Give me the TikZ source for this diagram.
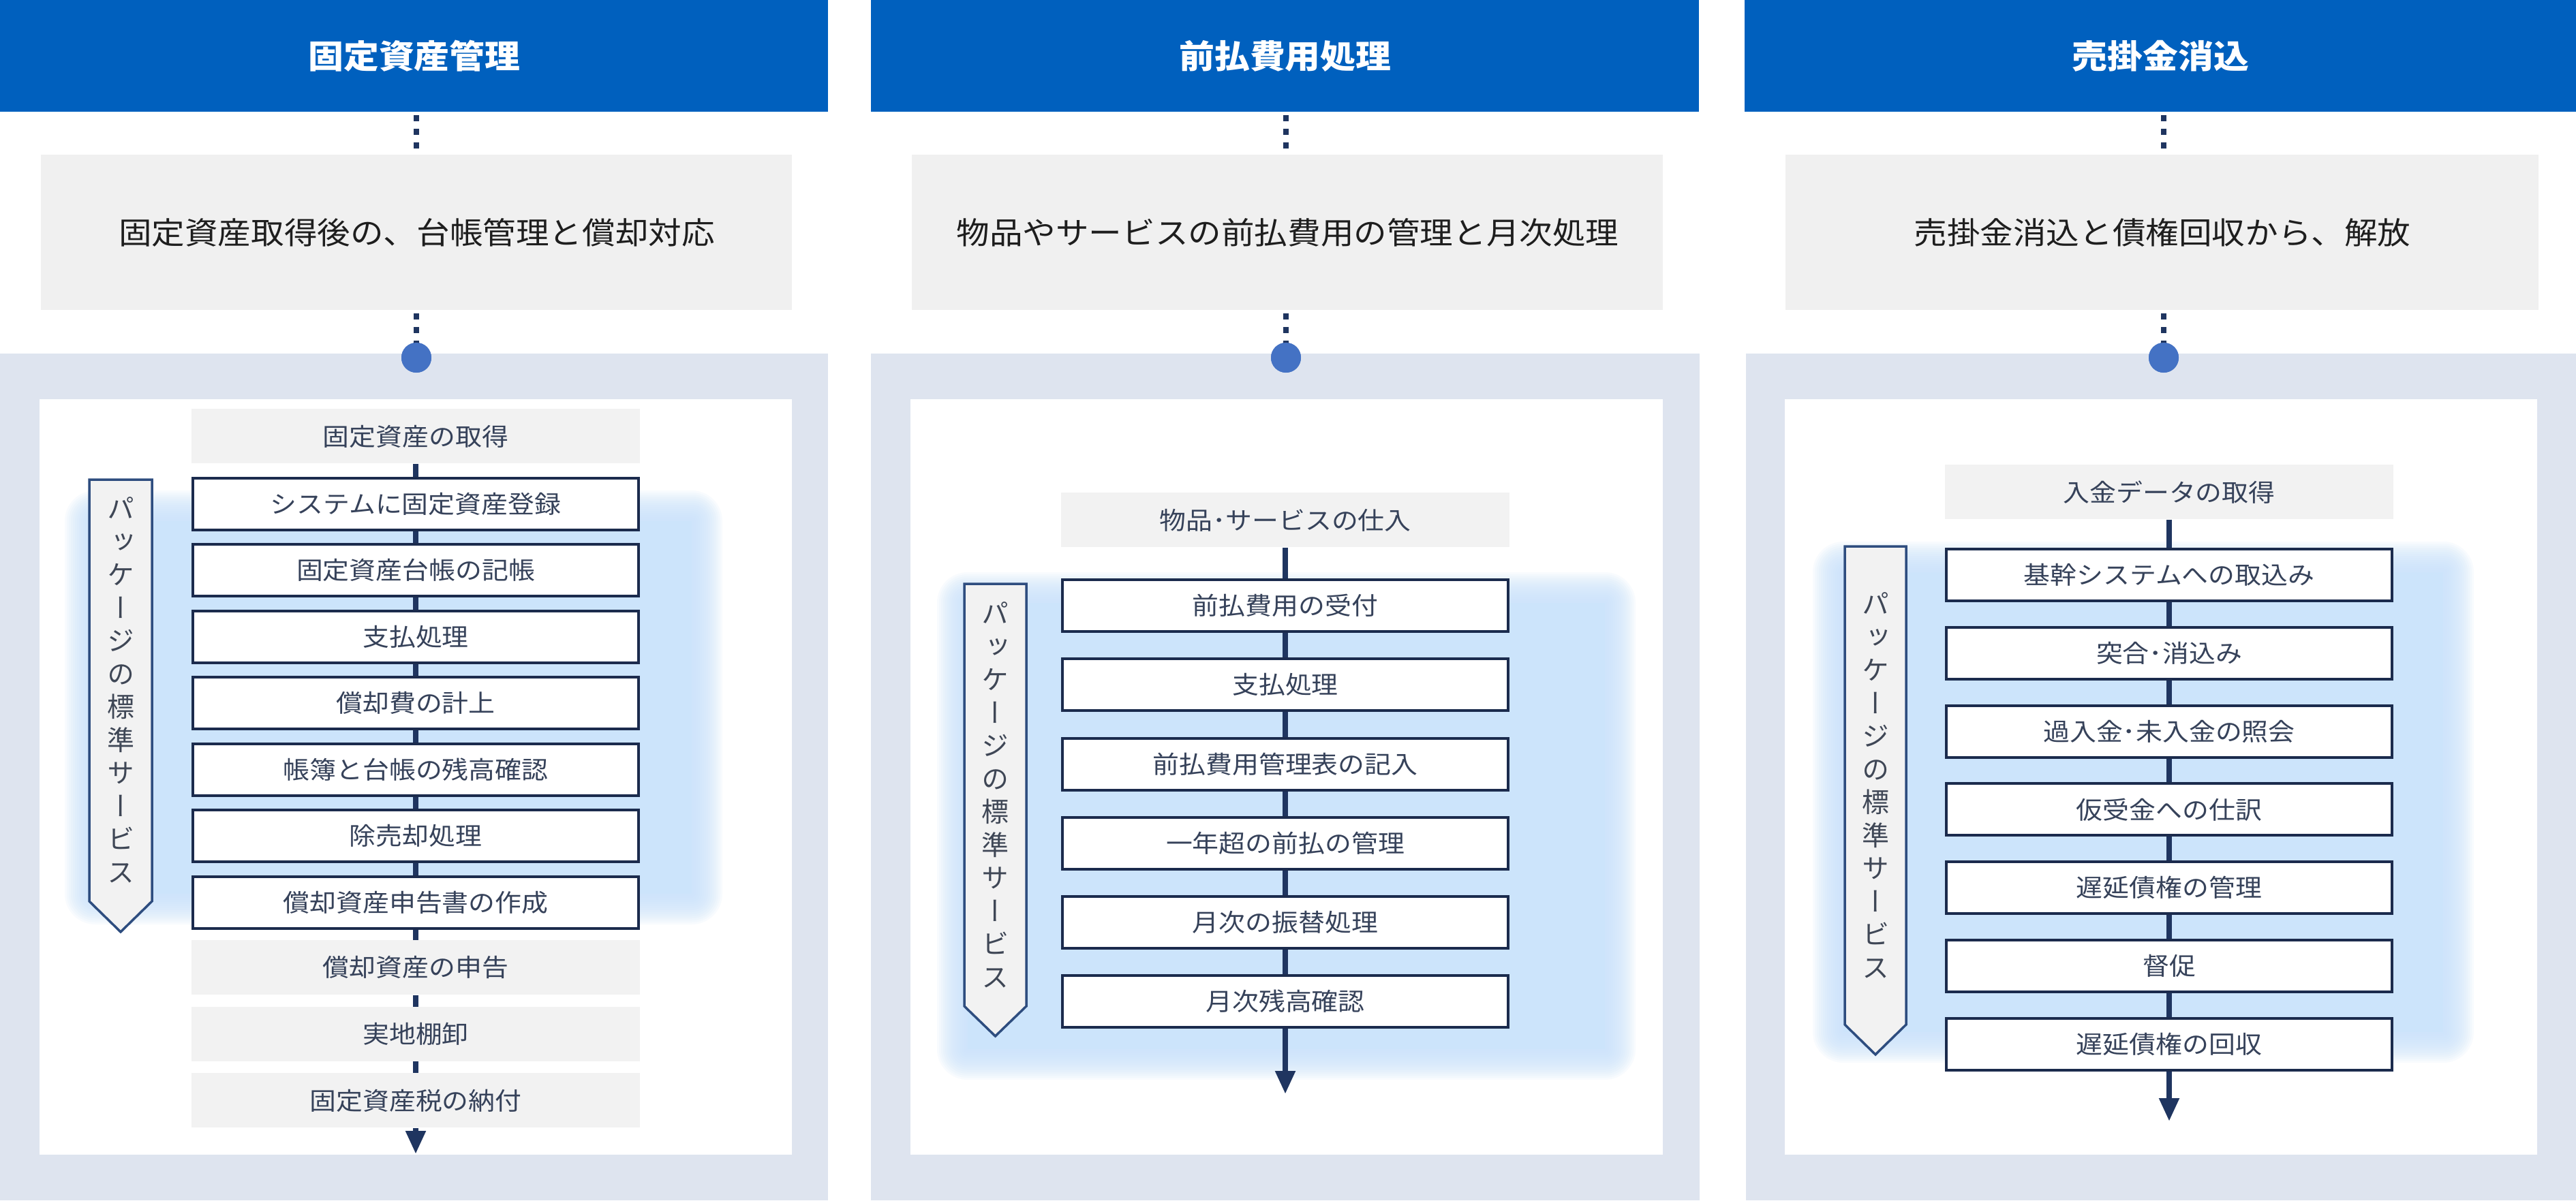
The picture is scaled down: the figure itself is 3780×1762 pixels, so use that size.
\documentclass[tikz,border=0pt]{standalone}
\usepackage{fontspec}
\usepackage{graphicx}
\usetikzlibrary{arrows.meta}
\setmainfont{Noto Sans CJK JP}[FakeStretch=1.08]
\newfontfamily\vfont{Noto Sans CJK JP}[RawFeature=+vert]
\definecolor{hdrc}{HTML}{0060BE}
\definecolor{subc}{HTML}{F0F0F0}
\definecolor{panelc}{HTML}{DEE4EF}
\definecolor{grayc}{HTML}{F2F2F2}
\definecolor{boxc}{HTML}{1B2B4D}
\definecolor{connc}{HTML}{1F3560}
\definecolor{dotc}{HTML}{4472C4}
\definecolor{glowc}{HTML}{CCE4FB}
\definecolor{txtc}{HTML}{36425A}
\definecolor{subtxt}{HTML}{1E1E1E}
\definecolor{pentc}{HTML}{2E4D7F}
\definecolor{penttxt}{HTML}{3F4756}
\newcommand\glowbox[4]{%
  \fill[glowc] (#1,#2) rectangle (#3,#4);
  \foreach \e in {3,6,...,45}{%
    \pgfmathsetmacro\rc{\e*0.5}%
    \fill[glowc, opacity=0.13, rounded corners=\rc pt] (#1-\e,#2-\e) rectangle (#3+\e,#4+\e);
  }%
}
\begin{document}
\begin{tikzpicture}[x=0.5pt,y=-0.5pt,
  hdr/.style={fill=hdrc, text=white, minimum width=607.5pt, minimum height=82pt, inner sep=0pt, anchor=north west, font=\fontsize{24pt}{28pt}\selectfont\bfseries},
  sub/.style={fill=subc, text=subtxt, minimum width=551pt, minimum height=114pt, inner sep=0pt, anchor=north west, font=\fontsize{22.5pt}{26pt}\selectfont},
  stepbox/.style={draw=boxc, line width=2pt, fill=white, text=txtc, minimum width=327pt, minimum height=38pt, inner sep=0pt, anchor=north, font=\fontsize{18pt}{22pt}\selectfont},
  graybox/.style={fill=grayc, text=txtc, minimum width=329pt, minimum height=40pt, inner sep=0pt, anchor=north, font=\fontsize{18pt}{22pt}\selectfont},
  conn/.style={draw=connc, line width=4pt},
  arr/.style={conn, -{Triangle[length=17pt,width=14pt]}},
  dotline/.style={draw=connc, line width=4pt, dash pattern=on 4.5pt off 5.5pt, dash phase=8pt},
  bluedot/.style={circle, fill=dotc, minimum size=22pt, inner sep=0pt},
  pent/.style={draw=pentc, fill=grayc, line width=1.75pt, line join=miter},
  penttext/.style={text=penttxt, align=center, inner sep=0pt, font=\vfont\fontsize{20pt}{24.25pt}\selectfont}
]
\useasboundingbox (0,0) rectangle (3780,1762);
\fill[white] (0,0) rectangle (3780,1762);

% ---------- panels ----------
\fill[panelc] (0,519) rectangle (1215,1762);
\fill[panelc] (1278,519) rectangle (2494,1762);
\fill[panelc] (2562,519) rectangle (3780,1762);
\fill[white] (58,586) rectangle (1162,1695);
\fill[white] (1336,586) rectangle (2440,1695);
\fill[white] (2619,586) rectangle (3723,1695);

% ---------- glows ----------
\glowbox{140}{765}{1015}{1312}
\glowbox{1420}{885}{2355}{1540}
\glowbox{2705}{840}{3585}{1515}

% ---------- headers and subtitles ----------
\node[hdr] (h1) at (0,0) {固定資産管理};
\node[hdr, minimum width=607.5pt] (h2) at (1278,0) {前払費用処理};
\node[hdr, minimum width=610pt] (h3) at (2560,0) {売掛金消込};
\node[sub] (s1) at (60,227) {固定資産取得後の、台帳管理と償却対応};
\node[sub] (s2) at (1338,227) {物品やサービスの前払費用の管理と月次処理};
\node[sub, minimum width=552.5pt] (s3) at (2620,227) {売掛金消込と債権回収から、解放};

% ---------- blue dots and dotted links ----------
\node[bluedot] (d1) at (611,525) {};
\node[bluedot] (d2) at (1887,525) {};
\node[bluedot] (d3) at (3175,525) {};
\draw[dotline] (d1 |- h1.south) -- (d1 |- s1.north);
\draw[dotline] (d1 |- s1.south) -- (d1.center);
\draw[dotline] (d2 |- h2.south) -- (d2 |- s2.north);
\draw[dotline] (d2 |- s2.south) -- (d2.center);
\draw[dotline] (d3 |- h3.south) -- (d3 |- s3.north);
\draw[dotline] (d3 |- s3.south) -- (d3.center);
\node[bluedot] at (d1) {};
\node[bluedot] at (d2) {};
\node[bluedot] at (d3) {};

% ---------- column 1 ----------
\node[graybox] (a1) at (610,600) {固定資産の取得};
\node[stepbox] (a2) at (610,699.5) {システムに固定資産登録};
\node[stepbox] (a3) at (610,797) {固定資産台帳の記帳};
\node[stepbox] (a4) at (610,894.5) {支払処理};
\node[stepbox] (a5) at (610,992) {償却費の計上};
\node[stepbox] (a6) at (610,1089.5) {帳簿と台帳の残高確認};
\node[stepbox] (a7) at (610,1187) {除売却処理};
\node[stepbox] (a8) at (610,1284.5) {償却資産申告書の作成};
\node[graybox] (a9) at (610,1380) {償却資産の申告};
\node[graybox] (a10) at (610,1477.5) {実地棚卸};
\node[graybox] (a11) at (610,1575) {固定資産税の納付};
\coordinate (ae) at (610,1694);
\foreach \p/\q in {a1/a2,a2/a3,a3/a4,a4/a5,a5/a6,a6/a7,a7/a8,a8/a9,a9/a10,a10/a11}
  \draw[conn] (\p.south) -- (\q.north);
\draw[arr] (a11.south) -- (ae);

% ---------- column 2 ----------
\node[graybox] (b1) at (1886,723) {物品･サービスの仕入};
\node[stepbox] (b2) at (1886,849) {前払費用の受付};
\node[stepbox] (b3) at (1886,965) {支払処理};
\node[stepbox] (b4) at (1886,1081.5) {前払費用管理表の記入};
\node[stepbox] (b5) at (1886,1197.5) {一年超の前払の管理};
\node[stepbox] (b6) at (1886,1313.5) {月次の振替処理};
\node[stepbox] (b7) at (1886,1429.5) {月次残高確認};
\coordinate (be) at (1886,1606);
\foreach \p/\q in {b1/b2,b2/b3,b3/b4,b4/b5,b5/b6,b6/b7}
  \draw[conn] (\p.south) -- (\q.north);
\draw[arr] (b7.south) -- (be);

% ---------- column 3 ----------
\node[graybox] (c1) at (3183,682) {入金データの取得};
\node[stepbox] (c2) at (3183,804) {基幹システムへの取込み};
\node[stepbox] (c3) at (3183,918.8) {突合･消込み};
\node[stepbox] (c4) at (3183,1033.6) {過入金･未入金の照会};
\node[stepbox] (c5) at (3183,1148.4) {仮受金への仕訳};
\node[stepbox] (c6) at (3183,1263.2) {遅延債権の管理};
\node[stepbox] (c7) at (3183,1378) {督促};
\node[stepbox] (c8) at (3183,1492.8) {遅延債権の回収};
\coordinate (ce) at (3183,1646);
\foreach \p/\q in {c1/c2,c2/c3,c3/c4,c4/c5,c5/c6,c6/c7,c7/c8}
  \draw[conn] (\p.south) -- (\q.north);
\draw[arr] (c8.south) -- (ce);

% ---------- package labels ----------
\draw[pent] (131,704) -- (223,704) -- (223,1323) -- (177,1368) -- (131,1323) -- cycle;
\node[penttext] (p1) at (177,1013) {パ\\ッ\\ケ\\ー\\ジ\\の\\標\\準\\サ\\ー\\ビ\\ス};
\draw[pent] (1415,857) -- (1506,857) -- (1506,1477) -- (1460.5,1521) -- (1415,1477) -- cycle;
\node[penttext] (p2) at (1460.5,1167) {パ\\ッ\\ケ\\ー\\ジ\\の\\標\\準\\サ\\ー\\ビ\\ス};
\draw[pent] (2707,802) -- (2797,802) -- (2797,1504) -- (2752,1548) -- (2707,1504) -- cycle;
\node[penttext] (p3) at (2752,1153) {パ\\ッ\\ケ\\ー\\ジ\\の\\標\\準\\サ\\ー\\ビ\\ス};
\end{tikzpicture}
\end{document}
